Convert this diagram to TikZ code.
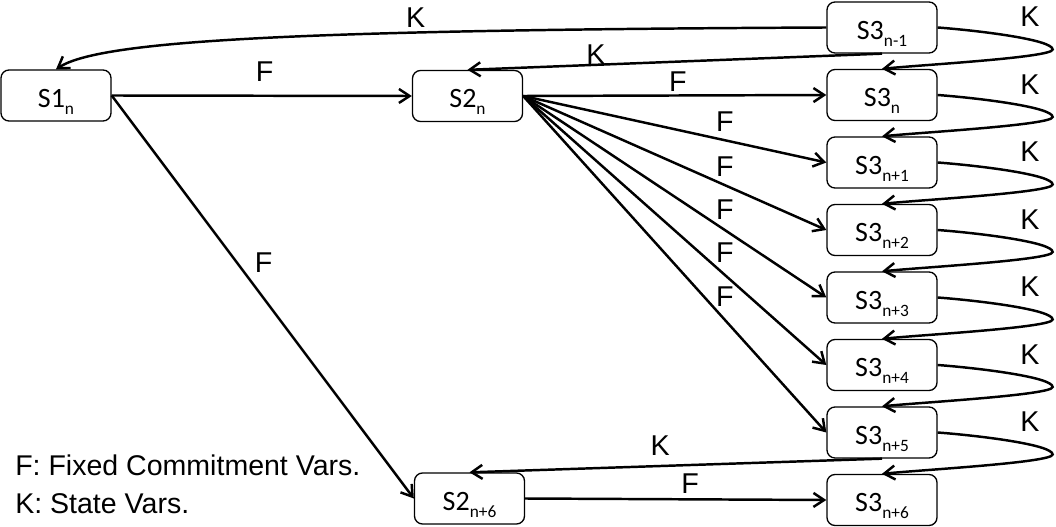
\documentclass[tikz,border=0pt]{standalone}
\usepackage{fontspec}
\setmainfont{Liberation Sans}
\newfontfamily\boxfont{Carlito}
\usetikzlibrary{arrows.meta}
% lowered index text inside a state box
\newcommand\idx[1]{\raisebox{-5.3pt}{\fontsize{13}{13}\selectfont #1}}

\begin{document}
\begin{tikzpicture}[x=0.75pt,y=-0.75pt,
  state/.style={draw, line width=1pt, rounded corners=6pt, fill=white,
    minimum width=82.5pt, minimum height=38.25pt, inner sep=0pt,
    text height=17.6pt, text depth=0pt,
    font=\boxfont\fontsize{21}{21}\selectfont},
  lbl/.style={inner sep=0pt, font=\fontsize{21.5}{21.5}\selectfont},
  legend/.style={inner sep=0pt, anchor=base west, font=\fontsize{21.4}{21.4}\selectfont},
  conn/.style={line width=1.85pt, -{Straight Barb[length=8pt,width=10.5pt]}},
]
\useasboundingbox (0,0) rectangle (1056,527);

% states
\node[state] (s1)  at (56,95.5)    {S1\idx{n}};
\node[state] (s2)  at (467.5,96)   {S2\idx{n}};
\node[state] (s2b) at (469.5,498.5){S2\idx{n+6}};
\node[state] (s3m) at (882,27.5)   {S3\idx{n-1}};
\node[state] (s30) at (882,95)     {S3\idx{n}};
\node[state] (s31) at (882,162.5)  {S3\idx{n+1}};
\node[state] (s32) at (882,230)    {S3\idx{n+2}};
\node[state] (s33) at (882,297.5)  {S3\idx{n+3}};
\node[state] (s34) at (882,365)    {S3\idx{n+4}};
\node[state] (s35) at (882,432.5)  {S3\idx{n+5}};
\node[state] (s36) at (882,500)    {S3\idx{n+6}};

% fixed commitment transitions
\draw[conn] (s1.east) -- node[lbl, pos=0.51, yshift=18pt] {F} (s2.west);
\draw[conn] (s1.east) -- node[lbl, pos=0.415, xshift=20pt] {F} (s2b.west);
\draw[conn] (s2.east) -- node[lbl, pos=0.51, yshift=10.5pt] {F} (s30.west);
\draw[conn] (s2.east) -- node[lbl, pos=0.665, yshift=14pt] {F} (s31.west);
\draw[conn] (s2.east) -- node[lbl, pos=0.665, yshift=13.5pt] {F} (s32.west);
\draw[conn] (s2.east) -- node[lbl, pos=0.665, yshift=15pt] {F} (s33.west);
\draw[conn] (s2.east) -- node[lbl, pos=0.665, yshift=17pt] {F} (s34.west);
\draw[conn] (s2.east) -- node[lbl, pos=0.665, yshift=17pt] {F} (s35.west);
\draw[conn] (s2b.east) -- node[lbl, pos=0.548, yshift=12pt] {F} (s36.west);

% state variable transitions
\draw[conn] (s3m.west) .. controls (300,30) and (100,40) .. node[lbl, pos=0.32, yshift=11pt] {K} (s1.north);
\draw[conn] (s3m.south) -- node[lbl, pos=0.69, yshift=7.5pt] {K} (s2.north);
\draw[conn] (s35.south) -- node[lbl, pos=0.538, yshift=15pt] {K} (s2b.north);

\foreach \a/\b in {s3m/s30, s30/s31, s31/s32, s32/s33, s33/s34, s34/s35, s35/s36}
  \draw[conn] (\a.east) .. controls +(40,3) and +(0,-10) ..
    ([shift={(115,22)}]\a.east) node[lbl, xshift=-17pt, yshift=24.4pt] {K}
    .. controls +(0,8) and +(40,-4) .. (\b.north);

% legend
\node[legend] (legf) at (15,475) {F: Fixed Commitment Vars.};
\node[legend] (legk) at (15,513) {K: State Vars.};
\end{tikzpicture}
\end{document}
